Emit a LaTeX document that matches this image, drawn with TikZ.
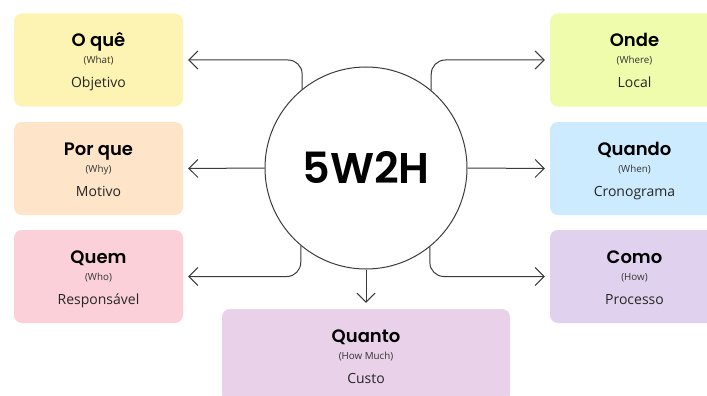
\documentclass[tikz,border=0pt]{standalone}
\usepackage{fontspec}
\setmainfont{Open Sans}
\newfontfamily\titlefont{Poppins SemiBold}
\usetikzlibrary{arrows.meta,calc}
\definecolor{cyellow}{HTML}{FDF4B3}
\definecolor{cpeach}{HTML}{FEE4C9}
\definecolor{cpink}{HTML}{FBD0D8}
\definecolor{clime}{HTML}{EFFCAB}
\definecolor{cblue}{HTML}{CDEBFE}
\definecolor{clav}{HTML}{E0D2EE}
\definecolor{cmauve}{HTML}{E9D1EA}
\definecolor{cline}{HTML}{3A3A3A}
\tikzset{
  card/.style={rectangle, rounded corners=8pt, draw=none, inner sep=0pt},
  ttl/.style={anchor=base, font=\titlefont\fontsize{18}{20}\selectfont, text=black, inner sep=0pt},
  sub/.style={anchor=base, font=\fontsize{9.8}{11}\selectfont, text=black!80, inner sep=0pt},
  body/.style={anchor=base, font=\fontsize{14}{16}\selectfont, text=black!85, inner sep=0pt},
  arr/.style={draw=cline, line width=1pt, -{Straight Barb[length=9pt,width=18pt,line width=1pt]}},
}
\newcommand{\mkcard}[8]{%
  \node[card, fill=#5, minimum width=#4pt, minimum height=93pt] (#1) at (#2,#3) {};
  \node[ttl] (#1t) at ($(#1.center)+(0,-13)$) {#6};
  \node[sub] (#1s) at ($(#1.center)+(0,4)$) {#7};
  \node[body] (#1b) at ($(#1.center)+(0,28)$) {#8};
}
\begin{document}
\begin{tikzpicture}[x=1pt,y=-1pt]
\useasboundingbox (0,0) rectangle (707,396);
\begin{scope}
\clip (0,0) rectangle (707,396);
\mkcard{what}{98.5}{60}{169}{cyellow}{O quê}{(What)}{Objetivo}
\mkcard{why}{98.5}{168.5}{169}{cpeach}{Por que}{(Why)}{Motivo}
\mkcard{who}{98.5}{276.5}{169}{cpink}{Quem}{(Who)}{Responsável}
\mkcard{where}{634.5}{60}{169}{clime}{Onde}{(Where)}{Local}
\mkcard{when}{634.5}{168.5}{169}{cblue}{Quando}{(When)}{Cronograma}
\mkcard{how}{634.5}{276.5}{169}{clav}{Como}{(How)}{Processo}
\mkcard{much}{366}{355.5}{288}{cmauve}{Quanto}{(How Much)}{Custo}
\end{scope}
\node[circle, draw=cline, line width=1pt, minimum size=202pt, inner sep=0pt,
      font=\titlefont\fontsize{43}{45}\selectfont] (c) at (366,168) {5W2H};
\draw[arr, rounded corners=14pt] (c.129.4) |- ([xshift=5pt]what.east);
\draw[arr] (c.west) -- ([xshift=5pt]why.east);
\draw[arr, rounded corners=14pt] (c.230.6) |- ([xshift=5pt]who.east);
\draw[arr, rounded corners=14pt] (c.50.6) |- ([xshift=-5pt]where.west);
\draw[arr] (c.east) -- ([xshift=-5pt]when.west);
\draw[arr, rounded corners=14pt] (c.309.4) |- ([xshift=-5pt]how.west);
\draw[arr] (c.south) -- ([yshift=6pt]much.north);
\end{tikzpicture}
\end{document}
